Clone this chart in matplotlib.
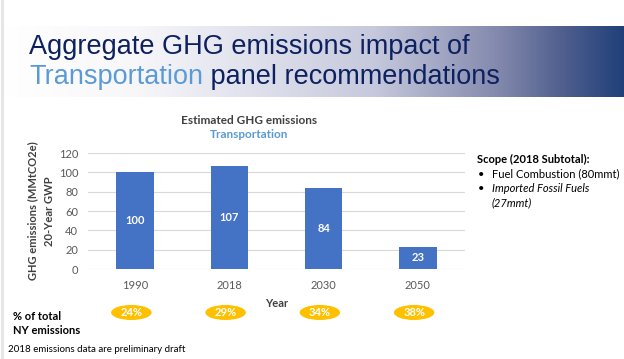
import numpy as np
import matplotlib
matplotlib.use("Agg")
import matplotlib.pyplot as plt
from matplotlib.colors import LinearSegmentedColormap
from matplotlib.patches import Ellipse
import matplotlib.transforms as mtransforms

# Данные
years = ["1990", "2018", "2030", "2050"]
emissions = [100, 107, 84, 23]
shares = ["24%", "29%", "34%", "38%"]
y_ticks = [0, 20, 40, 60, 80, 100, 120]

W, H = 624, 359

def px(x, y):
    # пиксели -> доли фигуры
    return x / W, 1 - y / H

plt.rcParams['font.family'] = ['Lato', 'DejaVu Sans']

fig = plt.figure(figsize=(W / 100, H / 100), dpi=100)
fig.patch.set_facecolor("white")

# Полоса с градиентом под заголовком
band = fig.add_axes([0, 1 - 97 / H, 1, 71 / H])
cmap = LinearSegmentedColormap.from_list(
    "band", [(0, "#ffffff"), (0.22, "#f7f7fa"), (0.6, "#c6c9dc"),
             (0.8, "#8389ad"), (0.9, "#51608f"), (1, "#21407a")])
band.imshow(np.linspace(0, 1, 256)[None, :], aspect="auto", cmap=cmap,
            extent=[0, 1, 0, 1])
band.set_axis_off()

# Серая полоса слева
fig.add_artist(plt.Line2D([1.5 / W, 1.5 / W], [0, 1], color="#e6e6e6", lw=2.2))

# Заголовок
navy = "#0d2160"
light_blue = "#5b9bd5"
fig.text(*px(29, 47), "Aggregate GHG emissions impact of", fontsize=19.5,
         color=navy, family="Liberation Sans", va="center")
t1 = fig.text(*px(29, 77), "Transportation", fontsize=19.5,
              color=light_blue, family="Liberation Sans", va="center")
renderer = fig.canvas.get_renderer()
bb = t1.get_window_extent(renderer)
fig.text(bb.x1 / fig.bbox.width, 1 - 77 / H, " panel recommendations",
         fontsize=19.5, color=navy, family="Liberation Sans", va="center")

# График
ax = fig.add_axes([88 / W, 1 - 269 / H, 377 / W, 116 / H])
x = np.arange(len(years))
bars = ax.bar(x, emissions, width=0.4, color="#4472c4", zorder=3)
for xi, v in zip(x, emissions):
    ax.text(xi, v / 2, str(v), ha="center", va="center", color="white",
            fontsize=8, fontweight="bold", zorder=4)

ax.set_xlim(-0.5, len(years) - 0.5)
ax.set_ylim(0, 120)
ax.set_yticks(y_ticks)
ax.set_xticks(x)
ax.set_xticklabels(years)
ax.tick_params(length=0, labelsize=8, colors="#595959")
ax.tick_params(axis="x", pad=8)
ax.tick_params(axis="y", pad=7)
ax.yaxis.grid(True, color="#d9d9d9", lw=0.8, zorder=0)
for s in ax.spines.values():
    s.set_visible(False)
ax.set_ylabel("GHG emissions (MMtCO2e)\n20-Year GWP", fontsize=8,
              fontweight="bold", color="#404040", labelpad=3,
              linespacing=1.55)
ax.set_xlabel("Year", fontsize=8, fontweight="bold", color="#404040",
              labelpad=5)

fig.text(*px(249, 120), "Estimated GHG emissions", ha="center", va="center",
         fontsize=8.5, fontweight="bold", color="#404040")
fig.text(*px(249, 135), "Transportation", ha="center", va="center",
         fontsize=8.5, fontweight="bold", color=light_blue)

# Овалы с долями
trans = mtransforms.blended_transform_factory(ax.transData, fig.transFigure)
oval_y = 1 - 312.5 / H
for xi, s in zip(x, shares):
    e = Ellipse((xi - 0.04, oval_y), 0.43, 15 / H, transform=trans,
                facecolor="#ffc000", edgecolor="none", clip_on=False)
    fig.add_artist(e)
    fig.text(xi - 0.04, oval_y, s, transform=trans, ha="center",
             va="center", color="white", fontsize=8, fontweight="bold")

fig.text(*px(13, 316), "% of total", fontsize=8, fontweight="bold",
         color="black", va="center")
fig.text(*px(13, 331), "NY emissions", fontsize=8, fontweight="bold",
         color="black", va="center")
fig.text(*px(8, 350), "2018 emissions data are preliminary draft",
         fontsize=7, color="black", va="center")

# Текст справа
fig.text(*px(477, 159), "Scope (2018 Subtotal):", fontsize=8,
         fontweight="bold", color="black", va="center")
fig.text(*px(478, 174), "\u2022", fontsize=8, color="black", va="center")
fig.text(*px(492, 174), "Fuel Combustion (80mmt)", fontsize=8,
         color="black", va="center")
fig.text(*px(478, 188), "\u2022", fontsize=8, color="black", va="center")
fig.text(*px(492, 188), "Imported Fossil Fuels", fontsize=8,
         style="italic", color="black", va="center")
fig.text(*px(492, 203), "(27mmt)", fontsize=8, style="italic",
         color="black", va="center")

fig.savefig("out.png", dpi=100)
